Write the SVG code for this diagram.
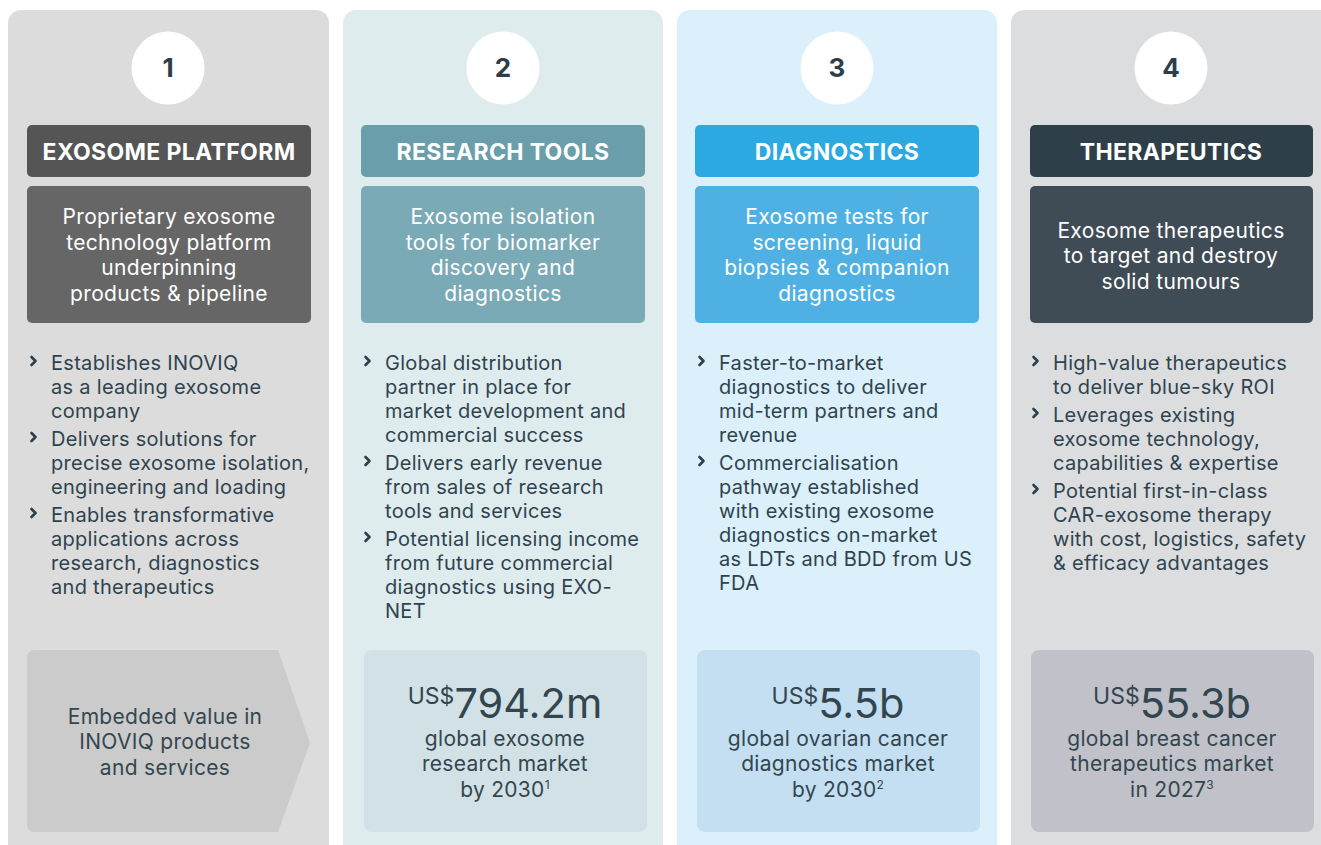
<svg xmlns="http://www.w3.org/2000/svg" width="1321" height="845" viewBox="0 0 1321 845">
<style>
text{font-family:Inter,"Noto Sans",sans-serif;}
.num{font-size:26px;font-weight:700;fill:#2d3e48;text-anchor:middle;}
.hdr{font-size:23px;font-weight:700;fill:#ffffff;text-anchor:middle;letter-spacing:0.35px;}
.sub{font-size:21px;fill:#ffffff;text-anchor:middle;letter-spacing:0.35px;}
.bl{font-size:20px;fill:#2f434e;letter-spacing:0.3px;}
.mk{font-size:21px;fill:#33464f;text-anchor:middle;letter-spacing:0.3px;}
.big{letter-spacing:0px;}
.sup{font-size:12px;}
.chev{fill:none;stroke:#2c3f4a;stroke-width:2.6;stroke-linecap:round;stroke-linejoin:round;}
.circ{fill:#ffffff;}
</style>
<rect width="1321" height="845" fill="#ffffff"/>

<g id="col1">
<rect x="8" y="10" width="321" height="850" rx="13" fill="#dcdcdc"/>
<circle class="circ" cx="168" cy="68" r="36.5"/>
<text class="num" x="168" y="77">1</text>
<rect x="27" y="125" width="284" height="52" rx="5" fill="#555555"/>
<text class="hdr" x="169" y="160">EXOSOME PLATFORM</text>
<rect x="27" y="186" width="284" height="137" rx="5" fill="#666666"/>
<text class="sub"><tspan x="169" y="224">Proprietary exosome</tspan><tspan x="169" y="250">technology platform</tspan><tspan x="169" y="275">underpinning</tspan><tspan x="169" y="301">products &amp; pipeline</tspan></text>
<path class="chev" d="M31.5 357 L35.5 361 L31.5 365"/>
<path class="chev" d="M31.5 433 L35.5 437 L31.5 441"/>
<path class="chev" d="M31.5 509 L35.5 513 L31.5 517"/>
<text class="bl"><tspan x="51" y="370">Establishes INOVIQ</tspan><tspan x="51" y="394">as a leading exosome</tspan><tspan x="51" y="418">company</tspan><tspan x="51" y="446">Delivers solutions for</tspan><tspan x="51" y="470">precise exosome isolation,</tspan><tspan x="51" y="494">engineering and loading</tspan><tspan x="51" y="522">Enables transformative</tspan><tspan x="51" y="546">applications across</tspan><tspan x="51" y="570">research, diagnostics</tspan><tspan x="51" y="594">and therapeutics</tspan></text>
<path d="M35 650 H278 L310 743 L278 832 H35 Q27 832 27 824 V658 Q27 650 35 650 Z" fill="#cbcbcb"/>
<text class="mk"><tspan x="165" y="724">Embedded value in</tspan><tspan x="165" y="749">INOVIQ products</tspan><tspan x="165" y="775">and services</tspan></text>
</g>

<g id="col2">
<rect x="343" y="10" width="320" height="850" rx="13" fill="#dfecee"/>
<circle class="circ" cx="503" cy="68" r="36.5"/>
<text class="num" x="503" y="77">2</text>
<rect x="361" y="125" width="284" height="52" rx="5" fill="#6a9eab"/>
<text class="hdr" x="503" y="160">RESEARCH TOOLS</text>
<rect x="361" y="186" width="284" height="137" rx="5" fill="#7aaab5"/>
<text class="sub"><tspan x="503" y="224">Exosome isolation</tspan><tspan x="503" y="250">tools for biomarker</tspan><tspan x="503" y="275">discovery and</tspan><tspan x="503" y="301">diagnostics</tspan></text>
<path class="chev" d="M365.5 357 L369.5 361 L365.5 365"/>
<path class="chev" d="M365.5 457 L369.5 461 L365.5 465"/>
<path class="chev" d="M365.5 533 L369.5 537 L365.5 541"/>
<text class="bl"><tspan x="385" y="370">Global distribution</tspan><tspan x="385" y="394">partner in place for</tspan><tspan x="385" y="418">market development and</tspan><tspan x="385" y="442">commercial success</tspan><tspan x="385" y="470">Delivers early revenue</tspan><tspan x="385" y="494">from sales of research</tspan><tspan x="385" y="518">tools and services</tspan><tspan x="385" y="546">Potential licensing income</tspan><tspan x="385" y="570">from future commercial</tspan><tspan x="385" y="594">diagnostics using EXO-</tspan><tspan x="385" y="618">NET</tspan></text>
<rect x="364" y="650" width="283" height="182" rx="8" fill="#d1e1e6"/>
<text class="mk big" x="505" y="718"><tspan font-size="23" dy="-14">US$</tspan><tspan font-size="41.5" dy="14">794.2m</tspan></text>
<text class="mk"><tspan x="505" y="746">global exosome</tspan><tspan x="505" y="771">research market</tspan><tspan x="505" y="797">by 2030<tspan class="sup" dy="-8">1</tspan></tspan></text>
</g>

<g id="col3">
<rect x="677" y="10" width="320" height="850" rx="13" fill="#dbf0fb"/>
<circle class="circ" cx="837" cy="68" r="36.5"/>
<text class="num" x="837" y="77">3</text>
<rect x="695" y="125" width="284" height="52" rx="5" fill="#2ca9e1"/>
<text class="hdr" x="837" y="160">DIAGNOSTICS</text>
<rect x="695" y="186" width="284" height="137" rx="5" fill="#4fb1e3"/>
<text class="sub"><tspan x="837" y="224">Exosome tests for</tspan><tspan x="837" y="250">screening, liquid</tspan><tspan x="837" y="275">biopsies &amp; companion</tspan><tspan x="837" y="301">diagnostics</tspan></text>
<path class="chev" d="M699.5 357 L703.5 361 L699.5 365"/>
<path class="chev" d="M699.5 457 L703.5 461 L699.5 465"/>
<text class="bl"><tspan x="719" y="370">Faster-to-market</tspan><tspan x="719" y="394">diagnostics to deliver</tspan><tspan x="719" y="418">mid-term partners and</tspan><tspan x="719" y="442">revenue</tspan><tspan x="719" y="470">Commercialisation</tspan><tspan x="719" y="494">pathway established</tspan><tspan x="719" y="518">with existing exosome</tspan><tspan x="719" y="542">diagnostics on-market</tspan><tspan x="719" y="566">as LDTs and BDD from US</tspan><tspan x="719" y="590">FDA</tspan></text>
<rect x="697" y="650" width="283" height="182" rx="8" fill="#c4dff2"/>
<text class="mk big" x="838" y="718"><tspan font-size="23" dy="-14">US$</tspan><tspan font-size="41.5" dy="14">5.5b</tspan></text>
<text class="mk"><tspan x="838" y="746">global ovarian cancer</tspan><tspan x="838" y="771">diagnostics market</tspan><tspan x="838" y="797">by 2030<tspan class="sup" dy="-8">2</tspan></tspan></text>
</g>

<g id="col4">
<rect x="1011" y="10" width="330" height="850" rx="13" fill="#dcdddf"/>
<circle class="circ" cx="1171" cy="68" r="36.5"/>
<text class="num" x="1171" y="77">4</text>
<rect x="1030" y="125" width="283" height="52" rx="5" fill="#2e3f49"/>
<text class="hdr" x="1171" y="160">THERAPEUTICS</text>
<rect x="1030" y="186" width="283" height="137" rx="5" fill="#3f4c55"/>
<text class="sub"><tspan x="1171" y="238">Exosome therapeutics</tspan><tspan x="1171" y="263">to target and destroy</tspan><tspan x="1171" y="289">solid tumours</tspan></text>
<path class="chev" d="M1033.5 357 L1037.5 361 L1033.5 365"/>
<path class="chev" d="M1033.5 409 L1037.5 413 L1033.5 417"/>
<path class="chev" d="M1033.5 485 L1037.5 489 L1033.5 493"/>
<text class="bl"><tspan x="1053" y="370">High-value therapeutics</tspan><tspan x="1053" y="394">to deliver blue-sky ROI</tspan><tspan x="1053" y="422">Leverages existing</tspan><tspan x="1053" y="446">exosome technology,</tspan><tspan x="1053" y="470">capabilities &amp; expertise</tspan><tspan x="1053" y="498">Potential first-in-class</tspan><tspan x="1053" y="522">CAR-exosome therapy</tspan><tspan x="1053" y="546">with cost, logistics, safety</tspan><tspan x="1053" y="570">&amp; efficacy advantages</tspan></text>
<rect x="1031" y="650" width="283" height="182" rx="8" fill="#c1c2c9"/>
<text class="mk big" x="1172" y="718"><tspan font-size="23" dy="-14">US$</tspan><tspan font-size="41.5" dy="14">55.3b</tspan></text>
<text class="mk"><tspan x="1172" y="746">global breast cancer</tspan><tspan x="1172" y="771">therapeutics market</tspan><tspan x="1172" y="797">in 2027<tspan class="sup" dy="-8">3</tspan></tspan></text>
</g>

<g id="connectors"></g>
</svg>
